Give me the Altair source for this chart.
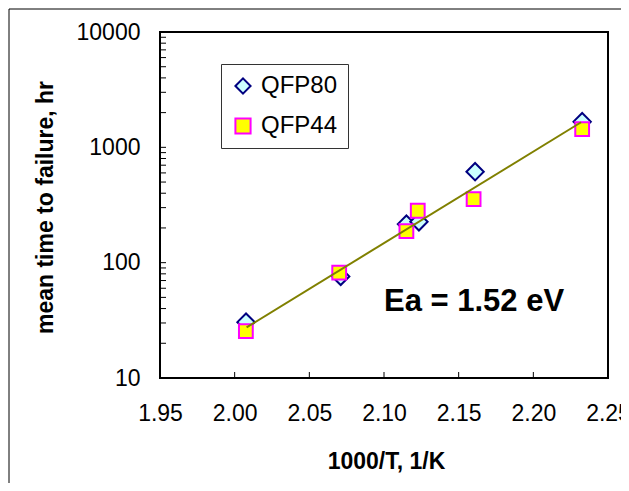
import altair as alt
import pandas as pd

# ---- data ----
series = ["QFP80"] * 6 + ["QFP44"] * 6
inv_t = [2.0076, 2.071, 2.115, 2.1234, 2.161, 2.2327,
         2.0075, 2.070, 2.115, 2.1226, 2.160, 2.2327]
mttf = [30.5, 76, 216, 226, 615, 1670,
        25.5, 82, 188, 282, 356, 1440]

fit_x = [2.008, 2.232]
fit_y = [27.5, 1650]

ea_x = [2.100]
ea_y = [45.5]
ea_label = ["Ea = 1.52 eV"]

x_ticks = [1.95, 2.00, 2.05, 2.10, 2.15, 2.20, 2.25]
y_major = [10, 100, 1000, 10000]
y_minor = [20, 30, 40, 50, 60, 70, 80, 90,
           200, 300, 400, 500, 600, 700, 800, 900,
           2000, 3000, 4000, 5000, 6000, 7000, 8000, 9000]

FONT = "Liberation Sans"

df_pts = pd.DataFrame({"series": series, "inv_t": inv_t, "mttf": mttf})
df_fit = pd.DataFrame({"inv_t": fit_x, "mttf": fit_y})
df_ea = pd.DataFrame({"inv_t": ea_x, "mttf": ea_y, "label": ea_label})
df_xt = pd.DataFrame({"inv_t": x_ticks[1:-1]})
df_yt = pd.DataFrame({"mttf": y_major[1:-1] + y_minor})
df_frame = pd.DataFrame({"a": [0]})

x_scale = alt.Scale(domain=[1.95, 2.25], nice=False, zero=False)
y_scale = alt.Scale(type="log", domain=[10, 10000], nice=False)

x_axis = alt.Axis(values=x_ticks, format=".2f", ticks=False, domain=False, grid=False,
                  labelFont=FONT, labelFontSize=23, labelColor="black", labelPadding=24,
                  labelFlush=False, labelOverlap=False,
                  titleFont=FONT, titleFontSize=23, titleFontWeight="bold", titleColor="black",
                  titleX=226, titleY=83, titleBaseline="middle", titleAlign="center")
y_axis = alt.Axis(values=y_major, format="d", ticks=False, domain=False, grid=False,
                  labelFont=FONT, labelFontSize=23, labelColor="black", labelPadding=20,
                  labelFlush=False, labelOverlap=False, labelBaseline="middle",
                  titleFont=FONT, titleFontSize=23, titleFontWeight="bold", titleColor="black",
                  titleX=-115, titleY=175, titleBaseline="middle", titleAlign="center")

leg = alt.Legend(orient="none", legendX=61, legendY=32, title=None,
                 labelFont=FONT, labelFontSize=24, labelColor="black",
                 symbolSize=230, symbolStrokeWidth=2, symbolOpacity=1,
                 strokeColor="#333333", fillColor="white", padding=10,
                 rowPadding=16, labelOffset=6)

dom = ["QFP80", "QFP44"]

frame = alt.Chart(df_frame).mark_rect(fill=None, stroke="black", strokeWidth=1).encode(
    x=alt.value(-151), x2=alt.value(700), y=alt.value(-23), y2=alt.value(700)
)

pts = alt.Chart(df_pts).mark_point(filled=True, opacity=1, strokeWidth=2).encode(
    x=alt.X("inv_t:Q", scale=x_scale, axis=x_axis, title="1000/T, 1/K"),
    y=alt.Y("mttf:Q", scale=y_scale, axis=y_axis, title="mean time to failure, hr"),
    shape=alt.Shape("series:N", scale=alt.Scale(domain=dom, range=["diamond", "square"]),
                    sort=dom, legend=leg),
    fill=alt.Fill("series:N", scale=alt.Scale(domain=dom, range=["#CCFFFF", "#FFFF00"]),
                  sort=dom, legend=leg),
    stroke=alt.Stroke("series:N", scale=alt.Scale(domain=dom, range=["#000080", "#FF00FF"]),
                      sort=dom, legend=leg),
    size=alt.condition("datum.series == 'QFP80'", alt.value(300), alt.value(190)),
)

fit = alt.Chart(df_fit).mark_line(color="#808000", strokeWidth=2).encode(
    x=alt.X("inv_t:Q", scale=x_scale),
    y=alt.Y("mttf:Q", scale=y_scale),
)

xt = alt.Chart(df_xt).mark_rule(color="black", strokeWidth=1).encode(
    x=alt.X("inv_t:Q", scale=x_scale), y=alt.value(346), y2=alt.value(340)
)
yt = alt.Chart(df_yt).mark_rule(color="black", strokeWidth=1).encode(
    y=alt.Y("mttf:Q", scale=y_scale), x=alt.value(0), x2=alt.value(6)
)

ea = alt.Chart(df_ea).mark_text(align="left", baseline="middle", font=FONT,
                                 fontSize=31, fontWeight="bold", color="black").encode(
    x=alt.X("inv_t:Q", scale=x_scale),
    y=alt.Y("mttf:Q", scale=y_scale),
    text="label:N",
)

chart = alt.layer(frame, xt, yt, pts, fit, ea).properties(
    width=448, height=346,
    autosize="none",
    padding={"left": 152, "top": 24, "right": 13, "bottom": 105},
    background="white",
).configure_view(stroke="black", strokeWidth=2)

chart.save("out.html", embed_options={"renderer": "svg", "actions": False})
